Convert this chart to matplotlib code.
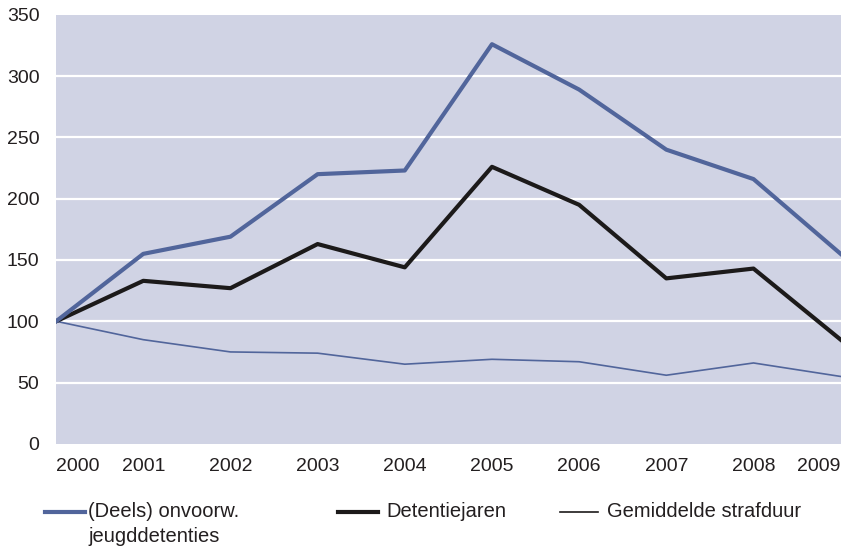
import matplotlib
matplotlib.use("Agg")
import matplotlib.pyplot as plt
from matplotlib.lines import Line2D

jaren = [2000, 2001, 2002, 2003, 2004, 2005, 2006, 2007, 2008, 2009]
jeugddetenties = [100, 155, 169, 220, 223, 326, 289, 240, 216, 155]
detentiejaren = [100, 133, 127, 163, 144, 226, 195, 135, 143, 85]
strafduur = [100, 85, 75, 74, 65, 69, 67, 56, 66, 55]
y_ticks = [0, 50, 100, 150, 200, 250, 300, 350]

blauw = "#51659b"
zwart = "#1c1a1a"
achtergrond = "#d0d3e4"
tekst = "#231f20"

plt.rcParams['font.family'] = ['Liberation Sans', 'DejaVu Sans']

fig = plt.figure(figsize=(8.5, 5.48), dpi=100)
ax = fig.add_axes([0.066, 0.19, 0.923, 0.783])
ax.set_facecolor(achtergrond)

for y in y_ticks[1:-1]:
    ax.axhline(y, color="white", lw=1.6, zorder=1)

ax.plot(jaren, strafduur, color=blauw, lw=1.2, zorder=3)
ax.plot(jaren, detentiejaren, color=zwart, lw=3, zorder=4)
ax.plot(jaren, jeugddetenties, color=blauw, lw=3, zorder=5)

ax.set_xlim(jaren[0], jaren[-1])
ax.set_ylim(0, 350)
ax.set_xticks(jaren)
ax.set_yticks(y_ticks)
ax.tick_params(length=0, labelsize=14, colors=tekst)
ax.tick_params(axis="x", pad=10)
ax.tick_params(axis="y", pad=12)
for s in ax.spines.values():
    s.set_visible(False)
xl = ax.get_xticklabels()
xl[0].set_ha("left")
xl[-1].set_ha("right")

# legend onder de grafiek
items = [
    (0.053, 0.100, 0.004, blauw, 3, "(Deels) onvoorw.\njeugddetenties"),
    (0.398, 0.445, 0.009, zwart, 3, "Detentiejaren"),
    (0.659, 0.703, 0.011, zwart, 1.2, "Gemiddelde strafduur"),
]
ly = 1 - 512 / 548
for x0, x1, gap, c, w, lab in items:
    fig.add_artist(Line2D([x0, x1], [ly, ly], color=c, lw=w, transform=fig.transFigure))
    fig.text(x1 + gap, ly + 0.019, lab, fontsize=14.5, color=tekst, va="top", ha="left",
             linespacing=1.4)

fig.savefig("out.png", dpi=100)
